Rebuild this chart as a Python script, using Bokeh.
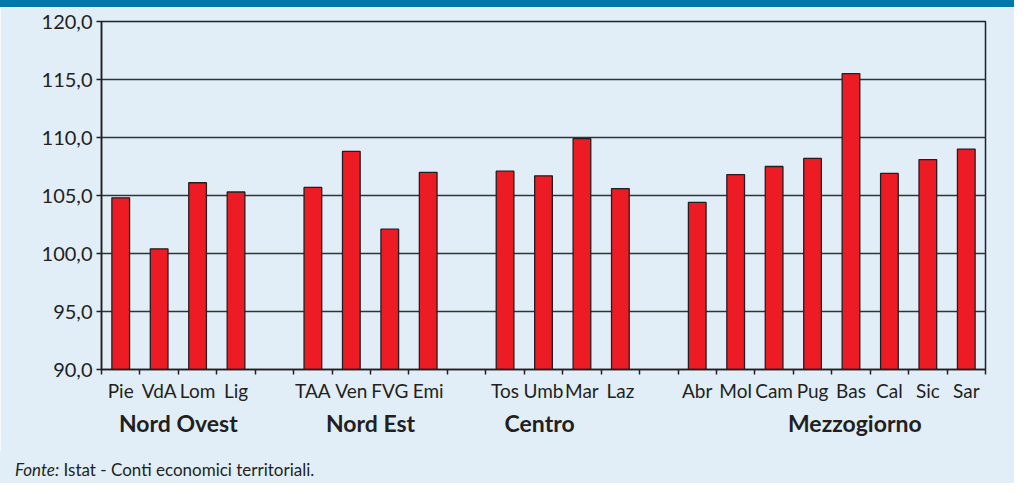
from bokeh.plotting import figure
from bokeh.models import FixedTicker, CustomJSTickFormatter, LinearAxis, Div, Range1d, ColumnDataSource
from bokeh.layouts import column
from bokeh.embed import file_html
from bokeh.resources import INLINE

# ---- data ----
regions = ["Pie", "VdA", "Lom", "Lig",
           "TAA", "Ven", "FVG", "Emi",
           "Tos", "Umb", "Mar", "Laz",
           "Abr", "Mol", "Cam", "Pug", "Bas", "Cal", "Sic", "Sar"]
values = [104.8, 100.4, 106.1, 105.3,
          105.7, 108.8, 102.1, 107.0,
          107.1, 106.7, 109.9, 105.6,
          104.4, 106.8, 107.5, 108.2, 115.5, 106.9, 108.1, 109.0]
groups = ["Nord Ovest", "Nord Est", "Centro", "Mezzogiorno"]
group_sizes = [4, 4, 4, 8]
y_ticks = [90, 95, 100, 105, 110, 115, 120]
source_label = "Fonte:"
source_note = "Istat - Conti economici territoriali."

# ---- layout helpers ----
xs = []
slot = 0
for gi, n in enumerate(group_sizes):
    if gi > 0:
        slot += 1
    for _ in range(n):
        xs.append(slot + 0.5)
        slot += 1
n_slots = slot
group_label_x = [2.0, 7.0, 11.4, 19.6]

BG = "#e1eef7"
INK = "#231f20"
FONT = "Lato"

p = figure(width=1014, height=444,
           x_range=Range1d(0, n_slots), y_range=Range1d(y_ticks[0], y_ticks[-1]),
           output_backend="svg", toolbar_location=None,
           min_border_left=101, min_border_right=29,
           min_border_top=14, min_border_bottom=82,
           background_fill_color=BG, border_fill_color=BG,
           outline_line_color=INK, outline_line_width=1.5)

src = ColumnDataSource(dict(x=xs, top=values, name=regions))
p.vbar(x="x", top="top", bottom=y_ticks[0], width=0.46, source=src,
       fill_color="#ed1c24", line_color=INK, line_width=1.3)

p.xgrid.visible = False
p.ygrid.ticker = FixedTicker(ticks=y_ticks[1:-1])
p.ygrid.grid_line_color = "#333333"
p.ygrid.grid_line_width = 1.5

ya = p.yaxis[0]
ya.ticker = FixedTicker(ticks=y_ticks)
ya.formatter = CustomJSTickFormatter(code="return tick.toFixed(1).replace('.', ',');")
ya.major_tick_out = 5
ya.major_tick_in = 0
ya.major_tick_line_color = INK
ya.major_tick_line_width = 1.5
ya.minor_tick_line_color = None
ya.axis_line_color = INK
ya.axis_line_width = 1.5
ya.major_label_text_font = FONT
ya.major_label_text_font_size = "20px"
ya.major_label_text_color = INK
ya.major_label_standoff = 4

xa = p.xaxis[0]
xa.ticker = FixedTicker(ticks=xs, minor_ticks=list(range(n_slots + 1)))
xa.formatter = CustomJSTickFormatter(args=dict(pos=xs, names=regions),
                                     code="const i = pos.indexOf(tick); return i >= 0 ? names[i] : '';")
xa.major_tick_line_color = None
xa.minor_tick_out = 5
xa.minor_tick_in = 0
xa.minor_tick_line_color = INK
xa.minor_tick_line_width = 1.5
xa.axis_line_color = INK
xa.axis_line_width = 1.5
xa.major_label_text_font = FONT
xa.major_label_text_font_size = "19px"
xa.major_label_text_color = INK
xa.major_label_standoff = 3

ga = LinearAxis(ticker=FixedTicker(ticks=group_label_x),
                formatter=CustomJSTickFormatter(args=dict(pos=group_label_x, names=groups),
                                                code="const i = pos.indexOf(tick); return i >= 0 ? names[i] : '';"),
                axis_line_color=None, major_tick_line_color=None, minor_tick_line_color=None,
                major_tick_out=0, major_tick_in=0,
                major_label_text_font=FONT, major_label_text_font_style="bold",
                major_label_text_font_size="23px", major_label_text_color=INK,
                major_label_standoff=4)
p.add_layout(ga, "below")

band = Div(width=1014, height=7, margin=0,
           styles={"background-color": "#0078ab", "overflow": "hidden"})
note = Div(width=1014, height=32, margin=0,
           text=f"<i>{source_label}</i> {source_note}",
           styles={"background-color": BG, "overflow": "hidden", "padding-left": "15px",
                   "padding-top": "9px", "box-sizing": "border-box",
                   "font-family": FONT, "font-size": "17px", "color": INK, "line-height": "20px"})
layout = column(band, p, note, spacing=0)

open("out.html", "w").write(file_html(layout, INLINE))
